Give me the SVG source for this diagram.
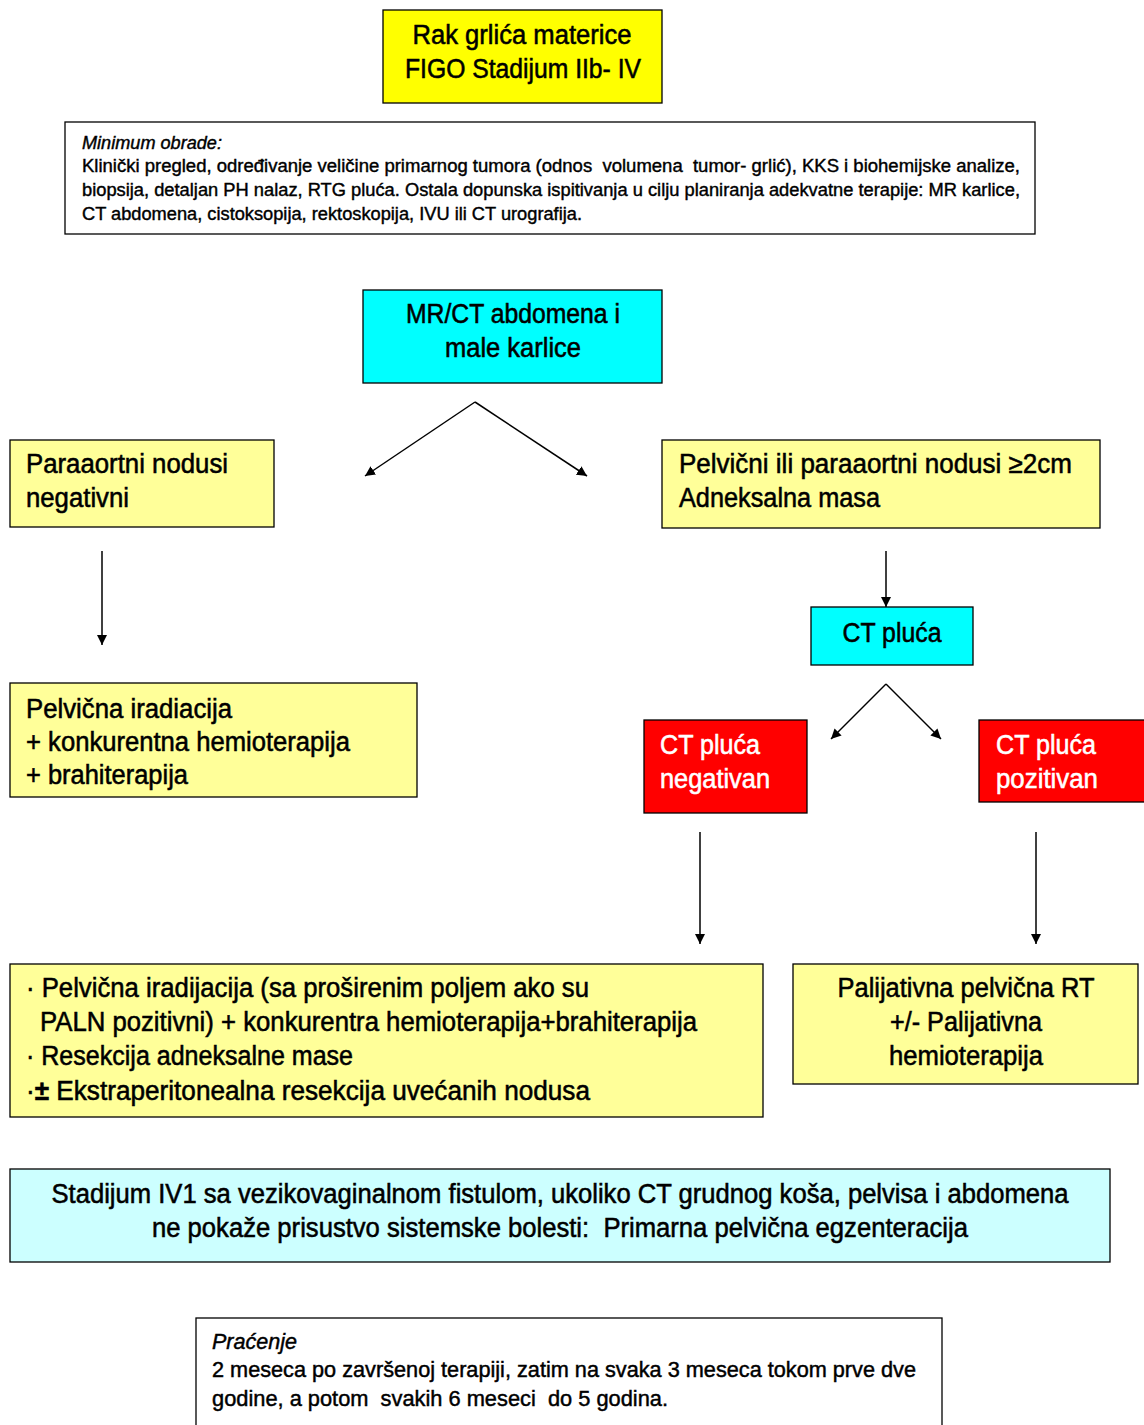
<svg xmlns="http://www.w3.org/2000/svg" width="1144" height="1425" viewBox="0 0 1144 1425">
<style>
.box{stroke:#000;stroke-width:1.3}
.y{fill:#ffff00}.ly{fill:#ffff99}.c{fill:#00ffff}.r{fill:#ff0000}.lc{fill:#ccffff}.w{fill:#fff}
text{font-family:"Liberation Sans",Arial,sans-serif;fill:#000;stroke:#000;stroke-width:0.55;white-space:pre}
.big{font-size:27px}
.sm{font-size:17.5px;stroke-width:0.4}
.md{font-size:21.5px;stroke-width:0.45}
.wt{fill:#fff;stroke:#fff}
.mid{text-anchor:middle}
.it{font-style:italic}
.b{font-weight:bold}
.conn line{stroke:#000;stroke-width:1.5;marker-end:url(#ah)}
</style>
<defs>
<marker id="ah" viewBox="0 0 10 10" refX="10" refY="5" markerWidth="10" markerHeight="10" orient="auto" markerUnits="userSpaceOnUse">
<path d="M0,0 L10,5 L0,10 z" fill="#000"/>
</marker>
</defs>
<rect width="1144" height="1425" fill="#fff"/>

<g id="n-title">
<rect class="box y" x="383" y="10" width="279" height="93"/>
<text class="big mid" x="522" y="44" textLength="219" lengthAdjust="spacingAndGlyphs">Rak grlića materice</text>
<text class="big mid" x="523" y="78" textLength="236" lengthAdjust="spacingAndGlyphs">FIGO Stadijum IIb- IV</text>
</g>

<g id="n-minimum">
<rect class="box w" x="65" y="122" width="970" height="112"/>
<text class="sm it" x="82" y="149" textLength="140" lengthAdjust="spacingAndGlyphs">Minimum obrade:</text>
<text class="sm" x="82" y="172" textLength="938" lengthAdjust="spacingAndGlyphs">Klinički pregled, određivanje veličine primarnog tumora (odnos  volumena  tumor- grlić), KKS i biohemijske analize,</text>
<text class="sm" x="82" y="196" textLength="938" lengthAdjust="spacingAndGlyphs">biopsija, detaljan PH nalaz, RTG pluća. Ostala dopunska ispitivanja u cilju planiranja adekvatne terapije: MR karlice,</text>
<text class="sm" x="82" y="220" textLength="500" lengthAdjust="spacingAndGlyphs">CT abdomena, cistoksopija, rektoskopija, IVU ili CT urografija.</text>
</g>

<g id="n-mrct">
<rect class="box c" x="363" y="290" width="299" height="93"/>
<text class="big mid" x="513" y="323" textLength="214" lengthAdjust="spacingAndGlyphs">MR/CT abdomena i</text>
<text class="big mid" x="513" y="357" textLength="136" lengthAdjust="spacingAndGlyphs">male karlice</text>
</g>

<g id="n-paraneg">
<rect class="box ly" x="10" y="440" width="264" height="87"/>
<text class="big" x="26" y="473" textLength="202" lengthAdjust="spacingAndGlyphs">Paraaortni nodusi</text>
<text class="big" x="26" y="507" textLength="103" lengthAdjust="spacingAndGlyphs">negativni</text>
</g>

<g id="n-pelvnod">
<rect class="box ly" x="662" y="440" width="438" height="88"/>
<text class="big" x="679" y="473" textLength="393" lengthAdjust="spacingAndGlyphs">Pelvični ili paraaortni nodusi ≥2cm</text>
<text class="big" x="679" y="507" textLength="201" lengthAdjust="spacingAndGlyphs">Adneksalna masa</text>
</g>

<g id="n-ctpluca">
<rect class="box c" x="811" y="607" width="162" height="58"/>
<text class="big mid" x="892" y="642" textLength="99" lengthAdjust="spacingAndGlyphs">CT pluća</text>
</g>

<g id="n-pelvirad">
<rect class="box ly" x="10" y="683" width="407" height="114"/>
<text class="big" x="26" y="718" textLength="206" lengthAdjust="spacingAndGlyphs">Pelvična iradiacija</text>
<text class="big" x="26" y="751" textLength="324" lengthAdjust="spacingAndGlyphs">+ konkurentna hemioterapija</text>
<text class="big" x="26" y="784" textLength="162" lengthAdjust="spacingAndGlyphs">+ brahiterapija</text>
</g>

<g id="n-ctneg">
<rect class="box r" x="644" y="720" width="163" height="93"/>
<text class="big wt" x="660" y="754" textLength="100" lengthAdjust="spacingAndGlyphs">CT pluća</text>
<text class="big wt" x="660" y="788" textLength="110" lengthAdjust="spacingAndGlyphs">negativan</text>
</g>

<g id="n-ctpoz">
<rect class="box r" x="979" y="720" width="170" height="82"/>
<text class="big wt" x="996" y="754" textLength="100" lengthAdjust="spacingAndGlyphs">CT pluća</text>
<text class="big wt" x="996" y="788" textLength="102" lengthAdjust="spacingAndGlyphs">pozitivan</text>
</g>

<g id="n-treatment">
<rect class="box ly" x="10" y="964" width="753" height="153"/>
<text class="big" x="26" y="997" textLength="563" lengthAdjust="spacingAndGlyphs">· Pelvična iradijacija (sa proširenim poljem ako su</text>
<text class="big" x="40" y="1031" textLength="657" lengthAdjust="spacingAndGlyphs">PALN pozitivni) + konkurentra hemioterapija+brahiterapija</text>
<text class="big" x="26" y="1065" textLength="327" lengthAdjust="spacingAndGlyphs">· Resekcija adneksalne mase</text>
<text class="big" x="26" y="1100" textLength="564" lengthAdjust="spacingAndGlyphs">·<tspan class="b">±</tspan> Ekstraperitonealna resekcija uvećanih nodusa</text>
</g>

<g id="n-palij">
<rect class="box ly" x="793" y="964" width="345" height="120"/>
<text class="big mid" x="966" y="997" textLength="257" lengthAdjust="spacingAndGlyphs">Palijativna pelvična RT</text>
<text class="big mid" x="966" y="1031" textLength="152" lengthAdjust="spacingAndGlyphs">+/- Palijativna</text>
<text class="big mid" x="966" y="1065" textLength="154" lengthAdjust="spacingAndGlyphs">hemioterapija</text>
</g>

<g id="n-stadijum">
<rect class="box lc" x="10" y="1169" width="1100" height="93"/>
<text class="big mid" x="560" y="1203" textLength="1017" lengthAdjust="spacingAndGlyphs">Stadijum IV1 sa vezikovaginalnom fistulom, ukoliko CT grudnog koša, pelvisa i abdomena</text>
<text class="big mid" x="560" y="1237" textLength="816" lengthAdjust="spacingAndGlyphs">ne pokaže prisustvo sistemske bolesti:  Primarna pelvična egzenteracija</text>
</g>

<g id="n-pracenje">
<rect class="box w" x="196" y="1318" width="746" height="115"/>
<text class="md it" x="212" y="1349" textLength="85" lengthAdjust="spacingAndGlyphs">Praćenje</text>
<text class="md" x="212" y="1377" textLength="704" lengthAdjust="spacingAndGlyphs">2 meseca po završenoj terapiji, zatim na svaka 3 meseca tokom prve dve</text>
<text class="md" x="212" y="1406" textLength="456" lengthAdjust="spacingAndGlyphs">godine, a potom  svakih 6 meseci  do 5 godina.</text>
</g>

<g id="connectors" class="conn">
<line x1="475" y1="402" x2="365" y2="476"/>
<line x1="475" y1="402" x2="587" y2="476"/>
<line x1="102" y1="551" x2="102" y2="645"/>
<line x1="886" y1="551" x2="886" y2="607"/>
<line x1="886" y1="684" x2="831" y2="739"/>
<line x1="886" y1="684" x2="941" y2="739"/>
<line x1="700" y1="832" x2="700" y2="944"/>
<line x1="1036" y1="832" x2="1036" y2="944"/>
</g>
</svg>
